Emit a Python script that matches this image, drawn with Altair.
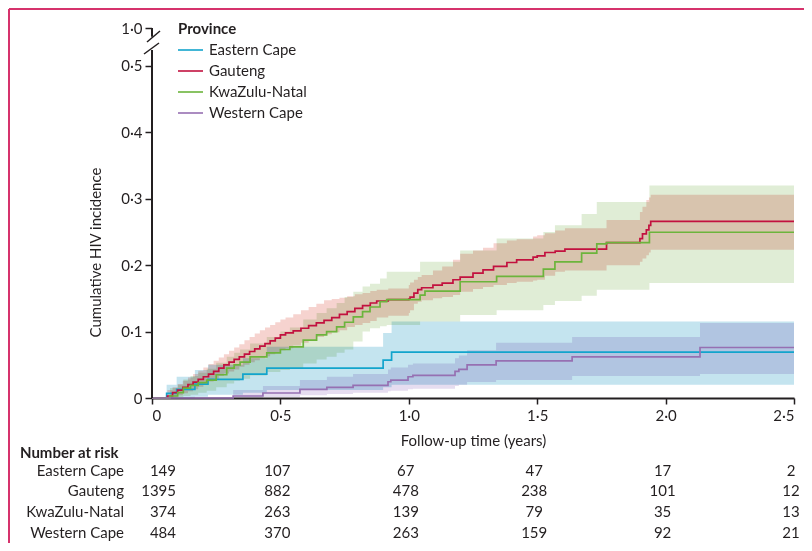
import altair as alt
import pandas as pd

provinces = ["Eastern Cape", "Gauteng", "KwaZulu-Natal", "Western Cape"]
line_colors = ["#12a4cc", "#c2113f", "#6cb43c", "#9670b2"]
band_colors = ["#c4e4ef", "#f6d3cf", "#e0edd6", "#e6ddf0"]

# Eastern Cape
ec_t = [0, 0.057, 0.096, 0.167, 0.218, 0.354, 0.447, 0.900, 0.933, 2.5]
ec_v = [0, 0.007, 0.013, 0.021, 0.028, 0.036, 0.045, 0.057, 0.069, 0.069]
ec_lo = [0, 0, 0, 0.002, 0.005, 0.008, 0.012, 0.016, 0.020, 0.020]
ec_hi = [0, 0.020, 0.032, 0.042, 0.050, 0.060, 0.077, 0.098, 0.115, 0.115]

# Gauteng
gp_t = [0, 0.06, 0.08, 0.10, 0.12, 0.14, 0.16, 0.18, 0.20, 0.22, 0.24, 0.26, 0.28, 0.30,
        0.32, 0.34, 0.36, 0.38, 0.40, 0.42, 0.44, 0.46, 0.48, 0.50, 0.52, 0.55, 0.58, 0.61,
        0.64, 0.67, 0.70, 0.73, 0.76, 0.79, 0.82, 0.85, 0.875, 0.92, 1.00, 1.005, 1.02,
        1.035, 1.05, 1.094, 1.13, 1.172, 1.2, 1.25, 1.289, 1.33, 1.382, 1.42, 1.484, 1.5,
        1.53, 1.57, 1.608, 1.77, 1.9, 1.91, 1.925, 1.935, 1.942, 2.5]
gp_v = [0, 0.003, 0.008, 0.012, 0.016, 0.020, 0.024, 0.028, 0.032, 0.036, 0.040, 0.045, 0.050, 0.054,
        0.058, 0.062, 0.066, 0.070, 0.074, 0.078, 0.082, 0.086, 0.090, 0.095, 0.098, 0.101, 0.105, 0.109,
        0.113, 0.117, 0.121, 0.126, 0.130, 0.135, 0.139, 0.143, 0.146, 0.148, 0.149, 0.152, 0.158,
        0.163, 0.166, 0.170, 0.173, 0.178, 0.182, 0.188, 0.193, 0.198, 0.204, 0.208, 0.212, 0.214,
        0.219, 0.221, 0.224, 0.234, 0.240, 0.247, 0.253, 0.260, 0.266, 0.266]
gp_lo = [0, 0, 0.002, 0.004, 0.007, 0.010, 0.013, 0.017, 0.021, 0.025, 0.029, 0.033, 0.037, 0.040,
         0.043, 0.047, 0.050, 0.054, 0.057, 0.060, 0.063, 0.066, 0.069, 0.072, 0.075, 0.079, 0.083, 0.087,
         0.092, 0.096, 0.099, 0.102, 0.107, 0.110, 0.113, 0.116, 0.121, 0.124, 0.128, 0.132, 0.142,
         0.145, 0.147, 0.150, 0.152, 0.155, 0.160, 0.164, 0.167, 0.170, 0.173, 0.175, 0.177, 0.178,
         0.184, 0.190, 0.192, 0.200, 0.205, 0.210, 0.215, 0.219, 0.223, 0.223]
gp_hi = [0, 0.012, 0.016, 0.021, 0.026, 0.031, 0.036, 0.041, 0.046, 0.051, 0.056, 0.061, 0.066, 0.071,
         0.076, 0.081, 0.087, 0.092, 0.097, 0.102, 0.106, 0.110, 0.114, 0.118, 0.121, 0.126, 0.132, 0.137,
         0.142, 0.147, 0.149, 0.151, 0.153, 0.156, 0.158, 0.161, 0.163, 0.165, 0.170, 0.174, 0.178,
         0.182, 0.185, 0.192, 0.198, 0.208, 0.217, 0.222, 0.226, 0.233, 0.237, 0.239, 0.243, 0.245,
         0.248, 0.252, 0.2555, 0.268, 0.280, 0.288, 0.298, 0.302, 0.306, 0.306]

# KwaZulu-Natal
kz_t = [0, 0.07, 0.10, 0.122, 0.15, 0.18, 0.213, 0.25, 0.291, 0.32, 0.343, 0.382, 0.447, 0.50,
        0.537, 0.589, 0.641, 0.68, 0.719, 0.75, 0.784, 0.82, 0.849, 0.888, 0.914, 1.044, 1.063,
        1.2, 1.342, 1.524, 1.569, 1.673, 1.732, 1.77, 1.937, 2.5]
kz_v = [0, 0.003, 0.008, 0.015, 0.019, 0.023, 0.027, 0.035, 0.045, 0.050, 0.054, 0.062, 0.068, 0.073,
        0.077, 0.087, 0.095, 0.100, 0.107, 0.114, 0.122, 0.130, 0.137, 0.145, 0.148, 0.155, 0.161,
        0.175, 0.183, 0.194, 0.205, 0.218, 0.232, 0.234, 0.2495, 0.2495]
kz_lo = [0, 0, 0.001, 0.003, 0.005, 0.008, 0.011, 0.016, 0.022, 0.026, 0.029, 0.034, 0.039, 0.042,
         0.045, 0.052, 0.058, 0.062, 0.068, 0.073, 0.085, 0.100, 0.105, 0.108, 0.110, 0.115, 0.115,
         0.125, 0.132, 0.140, 0.146, 0.154, 0.163, 0.163, 0.173, 0.173]
kz_hi = [0, 0.015, 0.020, 0.028, 0.033, 0.038, 0.044, 0.053, 0.062, 0.068, 0.073, 0.082, 0.092, 0.100,
         0.106, 0.118, 0.128, 0.135, 0.143, 0.152, 0.160, 0.168, 0.172, 0.180, 0.190, 0.205, 0.205,
         0.222, 0.240, 0.250, 0.260, 0.277, 0.295, 0.295, 0.320, 0.320]

# Western Cape
wc_t = [0, 0.316, 0.432, 0.576, 0.681, 0.783, 0.919, 0.93, 0.997, 1.016, 1.18, 1.195, 1.227,
        1.34, 1.636, 2.134, 2.5]
wc_v = [0, 0.003, 0.0075, 0.013, 0.016, 0.019, 0.0245, 0.027, 0.032, 0.034, 0.040, 0.043, 0.050,
        0.056, 0.062, 0.076, 0.076]
wc_lo = [0, 0, 0.001, 0.004, 0.006, 0.008, 0.010, 0.011, 0.013, 0.014, 0.018, 0.020, 0.024,
         0.027, 0.033, 0.036, 0.036]
wc_hi = [0, 0.012, 0.018, 0.027, 0.032, 0.036, 0.043, 0.046, 0.050, 0.052, 0.060, 0.064, 0.072,
         0.083, 0.092, 0.113, 0.113]

# Number at risk
risk_times = [0, 0.5, 1.0, 1.5, 2.0, 2.5]
risk_ec = [149, 107, 67, 47, 17, 2]
risk_gp = [1395, 882, 478, 238, 101, 12]
risk_kz = [374, 263, 139, 79, 35, 13]
risk_wc = [484, 370, 263, 159, 92, 21]

x_ticks = [0, 0.5, 1.0, 1.5, 2.0, 2.5]
y_ticks = [0, 0.1, 0.2, 0.3, 0.4, 0.5, 0.557]
y_top = 0.557

FONT = "Lato"
INK = "#231f20"
FS = 15

series = {
    "Eastern Cape": (ec_t, ec_v, ec_lo, ec_hi),
    "Gauteng": (gp_t, gp_v, gp_lo, gp_hi),
    "KwaZulu-Natal": (kz_t, kz_v, kz_lo, kz_hi),
    "Western Cape": (wc_t, wc_v, wc_lo, wc_hi),
}
rows = []
for p, (ts, vs, los, his) in series.items():
    for t, v, lo, hi in zip(ts, vs, los, his):
        rows.append({"province": p, "band": p, "t": t, "v": v, "lo": lo, "hi": hi})
df = pd.DataFrame(rows)

risk = {"Eastern Cape": risk_ec, "Gauteng": risk_gp, "KwaZulu-Natal": risk_kz, "Western Cape": risk_wc}
rrows = []
for p, ns in risk.items():
    for t, n in zip(risk_times, ns):
        rrows.append({"row": p, "t": t, "n": str(n)})
rdf = pd.DataFrame(rrows)

xscale = alt.Scale(domain=[0, 2.5], nice=False, zero=False)
yscale = alt.Scale(domain=[0, y_top], nice=False)

x_label = "datum.value == 0 ? '0' : replace(format(datum.value, '.1f'), '.', '·')"
y_label = ("datum.value > 0.55 ? '1·0' : (datum.value == 0 ? '0' : "
           "replace(format(datum.value, '.1f'), '.', '·'))")

x_enc = alt.X("t:Q", scale=xscale, axis=alt.Axis(
    values=x_ticks, labelExpr=x_label, grid=False, domainColor=INK, domainWidth=2,
    tickColor=INK, tickWidth=1.5, tickSize=6, labelPadding=4, labelFontSize=FS,
    labelFont=FONT, labelColor=INK, title="Follow-up time (years)", titleFont=FONT,
    titleFontSize=FS, titleFontWeight="normal", titleColor=INK, titleY=42,
    titleBaseline="middle"))

bands = alt.Chart(df).mark_area(interpolate="step-after", blend="multiply").encode(
    x=x_enc,
    y=alt.Y("lo:Q", scale=yscale, axis=alt.Axis(
        values=y_ticks, labelExpr=y_label, grid=False, domain=False, tickColor=INK,
        tickWidth=1.5, tickSize=7, labelPadding=3, labelFontSize=FS, labelFont=FONT,
        labelColor=INK, title="Cumulative HIV incidence", titleFont=FONT, titleFontSize=FS,
        titleFontWeight="normal", titleColor=INK, titleX=-57, titleY=224,
        titleBaseline="middle", titleAngle=270)),
    y2="hi:Q",
    fill=alt.Fill("band:N", scale=alt.Scale(domain=provinces, range=band_colors), legend=None),
)

lines = alt.Chart(df).mark_line(interpolate="step-after", strokeWidth=1.7).encode(
    x=alt.X("t:Q", scale=xscale),
    y=alt.Y("v:Q", scale=yscale),
    color=alt.Color("province:N", scale=alt.Scale(domain=provinces, range=line_colors),
                    legend=None),
)

one_df = pd.DataFrame({"a": [0]})

# cover the frame on the top and right edges of the plot
cover_top = alt.Chart(one_df).mark_rule(color="white", strokeWidth=2).encode(
    x=alt.value(0), x2=alt.value(644), y=alt.value(0))
cover_right = alt.Chart(one_df).mark_rule(color="white", strokeWidth=2).encode(
    x=alt.value(643), y=alt.value(-1), y2=alt.value(369))

# y-axis line with a break
seg_df = pd.DataFrame({"y0": [0, 0.544], "y1": [0.524, y_top]})
axis_line = alt.Chart(seg_df).mark_rule(color=INK, strokeWidth=2).encode(
    x=alt.value(0), y=alt.Y("y0:Q", scale=yscale), y2="y1:Q")
slash1 = alt.Chart(one_df).mark_rule(color=INK, strokeWidth=1.5).encode(
    x=alt.value(-5), x2=alt.value(8), y=alt.value(14), y2=alt.value(3))
slash2 = alt.Chart(one_df).mark_rule(color=INK, strokeWidth=1.5).encode(
    x=alt.value(-8), x2=alt.value(7), y=alt.value(26), y2=alt.value(15))

# page border (top and left)
border_top = alt.Chart(one_df).mark_rule(color="#d6336c", strokeWidth=2).encode(
    x=alt.value(-143), x2=alt.value(652), y=alt.value(-19))
border_left = alt.Chart(one_df).mark_rule(color="#d6336c", strokeWidth=2).encode(
    x=alt.value(-143), y=alt.value(-19), y2=alt.value(523))

# legend: title, then one swatch + label per province
legend_title = alt.Chart(pd.DataFrame({"label": ["Province"]})).mark_text(
    align="left", baseline="middle", font=FONT, fontSize=FS, fontWeight="bold", color=INK).encode(
    x=alt.value(26), y=alt.value(1), text="label:N")
legend_layers = [legend_title]
leg_rows = [22, 43, 64, 85]
for p, c, ypx in zip(provinces, line_colors, leg_rows):
    ldf = pd.DataFrame({"label": [p]})
    legend_layers.append(alt.Chart(ldf).mark_rule(color=c, strokeWidth=1.6).encode(
        x=alt.value(26), x2=alt.value(51), y=alt.value(ypx)))
    legend_layers.append(alt.Chart(ldf).mark_text(
        align="left", baseline="middle", font=FONT, fontSize=FS, color=INK).encode(
        x=alt.value(57), y=alt.value(ypx), text="label:N"))

# number-at-risk table, one text layer per row
row_px = [443, 463, 484, 505]
table_layers = []
for p, ypx in zip(provinces, row_px):
    sub = rdf[rdf["row"] == p]
    table_layers.append(alt.Chart(sub[sub["t"] == 0]).mark_text(
        align="right", baseline="middle", font=FONT, fontSize=FS, color=INK, dx=24).encode(
        x=alt.X("t:Q", scale=xscale), y=alt.value(ypx), text="n:N"))
    table_layers.append(alt.Chart(sub[sub["t"] > 0]).mark_text(
        align="center", baseline="middle", font=FONT, fontSize=FS, color=INK, dx=-3).encode(
        x=alt.X("t:Q", scale=xscale), y=alt.value(ypx), text="n:N"))
    table_layers.append(alt.Chart(sub[sub["t"] == 0]).mark_text(
        align="right", baseline="middle", font=FONT, fontSize=FS, color=INK).encode(
        x=alt.value(-28), y=alt.value(ypx), text="row:N"))
head_df = pd.DataFrame({"label": ["Number at risk"]})
header = alt.Chart(head_df).mark_text(
    align="left", baseline="middle", font=FONT, fontSize=FS, fontWeight="bold", color=INK).encode(
    x=alt.value(-132), y=alt.value(425), text="label:N")

chart = alt.layer(cover_top, cover_right, bands, lines, axis_line, slash1, slash2,
                  border_top, border_left, header, *legend_layers, *table_layers).properties(
    width=642, height=370,
    view=alt.ViewBackground(strokeOpacity=0, strokeWidth=0),
    autosize=alt.AutoSizeParams(type="none"),
    padding={"left": 144, "top": 20, "right": 10, "bottom": 145},
).configure_view(strokeWidth=0)

chart.save("out.html", embed_options={"renderer": "svg", "actions": False})
